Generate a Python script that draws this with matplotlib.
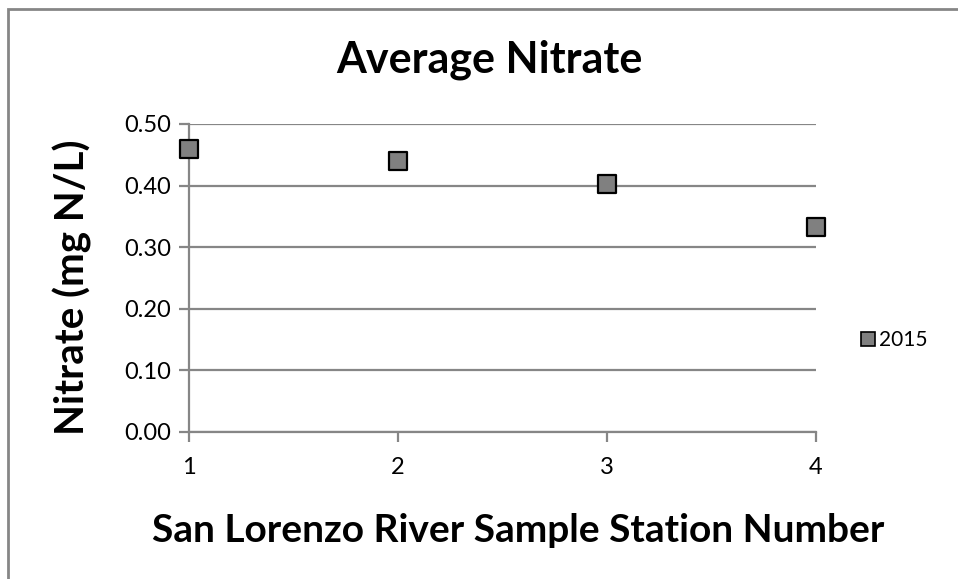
import matplotlib
matplotlib.use("Agg")
import matplotlib.pyplot as plt
from matplotlib.patches import Rectangle
from matplotlib.lines import Line2D

# Average nitrate at each San Lorenzo River sample station, 2015
stations = [1, 2, 3, 4]
nitrate_2015 = [0.459, 0.440, 0.403, 0.333]
y_ticks = [0.0, 0.1, 0.2, 0.3, 0.4, 0.5]
x_ticks = [1, 2, 3, 4]
series_name = "2015"

W, H = 958, 579
DPI = 100
FONT = ["Lato", "DejaVu Sans"]
GRAY = "#868686"

fig = plt.figure(figsize=(W / DPI, H / DPI), dpi=DPI)
fig.patch.set_facecolor("white")

# chart-area border (runs off the right and bottom edges)
fig.patches.append(Rectangle((8 / W, -0.05), 1.2, (H - 9) / H + 0.05,
                             transform=fig.transFigure, fill=False,
                             edgecolor=GRAY, linewidth=2.0))

ax = fig.add_axes([189 / W, (H - 432) / H, (816 - 189) / W, (432 - 124) / H])
ax.set_xlim(1, 4)
ax.set_ylim(0, 0.5)

ax.scatter(stations, nitrate_2015, marker="s", s=13.0 ** 2,
           facecolor="#808080", edgecolor="black", linewidth=1.6,
           zorder=5, clip_on=False)

ax.set_yticks(y_ticks)
ax.set_yticklabels([f"{v:.2f}" for v in y_ticks])
ax.set_xticks(x_ticks)
ax.set_xticklabels([str(v) for v in x_ticks])
ax.yaxis.grid(True, color=GRAY, linewidth=1.6)
ax.set_axisbelow(True)

for side in ("top", "right"):
    ax.spines[side].set_visible(False)
for side in ("left", "bottom"):
    ax.spines[side].set_color(GRAY)
    ax.spines[side].set_linewidth(1.6)

ax.tick_params(axis="both", direction="out", length=7, width=1.6,
               color=GRAY, labelsize=17)
ax.tick_params(axis="y", pad=6)
ax.tick_params(axis="x", pad=11)
for lab in ax.get_xticklabels() + ax.get_yticklabels():
    lab.set_family(FONT)

fig.text(489 / W, 1 - 60 / H, "Average Nitrate", ha="center", va="center",
         fontsize=31, fontweight="bold", family=FONT)
fig.text(72 / W, 1 - 287 / H, "Nitrate (mg N/L)", ha="center", va="center",
         rotation=90, fontsize=29, fontweight="bold", family=FONT)
fig.text(518 / W, 1 - 530 / H, "San Lorenzo River Sample Station Number",
         ha="center", va="center", fontsize=28, fontweight="bold", family=FONT)

handle = Line2D([], [], linestyle="none", marker="s", markersize=9.5,
                markerfacecolor="#808080", markeredgecolor="black",
                markeredgewidth=1.2)
fig.legend([handle], [series_name], loc="center left",
           bbox_to_anchor=(862 / W, 1 - 340 / H), frameon=False,
           handlelength=0.6, handletextpad=0.2, borderaxespad=0,
           borderpad=0, prop={"family": FONT, "size": 15})

fig.savefig("out.png", dpi=DPI, facecolor="white")
